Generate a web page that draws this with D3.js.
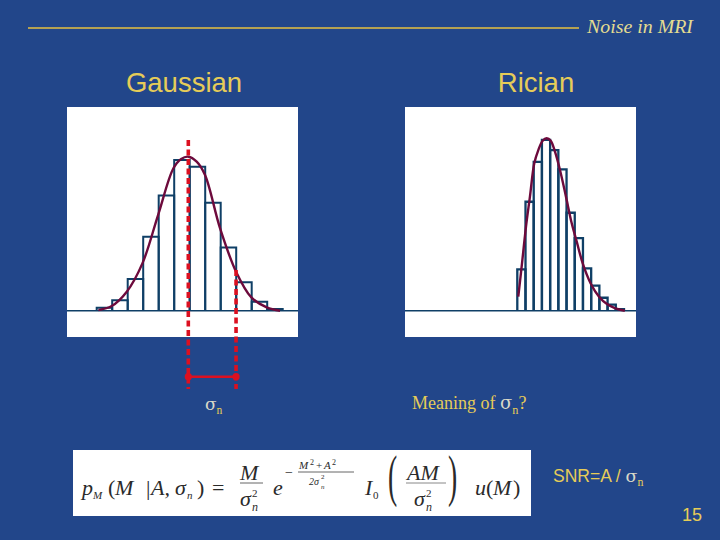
<!DOCTYPE html>
<html>
<head>
<meta charset="utf-8">
<script src="https://cdn.jsdelivr.net/npm/d3@7"></script>
<style>
    html, body { margin: 0; padding: 0; background: #22468a; }
    svg { display: block; }
</style>
</head>
<body>
<svg id="data" width="720" height="540"></svg>
<script>
// histogram heights, one per bin, peak of the gaussian bins = 100
var gaussianBins = [2, 7, 21, 49, 76.5, 100, 95.6, 71.7, 42, 18.8, 6, 1.1];
var ricianBins = [27.4, 72.3, 98.7, 113.3, 106.6, 93.8, 65, 48.2, 28.1, 16.6, 8.6, 4, 1.1];

// fitted curves (position in bin units)
var gaussianCurveX = [0.11, 0.97, 1.94, 2.95, 3.96, 4.95, 5.45, 5.91, 6.45, 6.99, 7.96, 8.99, 9.98, 10.97, 11.83];
var gaussianCurveY = [0.4, 3.1, 12.6, 31.4, 63.5, 94.5, 100.7, 102.2, 98.9, 90, 54.6, 25.9, 8.8, 2.2, 0];
var ricianCurveX = [0.12, 0.53, 1.06, 1.54, 2.07, 2.56, 3.09, 3.58, 4.07, 4.59, 5.2, 5.93, 6.63, 7.24, 7.97, 8.94, 9.96, 10.93, 11.95, 13.1];
var ricianCurveY = [9.3, 29.2, 55.8, 75.7, 97.8, 106.6, 112.8, 114.4, 112.8, 105.5, 93.4, 75.7, 58, 45.8, 31.4, 18.1, 9.3, 4.4, 1.5, 0];

// sigma marker: centre and centre + sigma, in bin units
var sigmaMarks = [5.91, 8.99];

var gold = "#e6cc58", cream = "#e4dc90", sigmaColor = "#d8d8c8", barColor = "#0f3f66", curveColor = "#6d0a3c", red = "#dc1020";

var svg = d3.select("#data");

var y = d3.scaleLinear().domain([0, 100]).range([310.7, 160]);
var xGauss = d3.scaleLinear().domain([0, 12]).range([96.7, 282.7]);
var xRice = d3.scaleLinear().domain([0, 13]).range([517.3, 624]);

function drawPanel(left, right, bins, curveX, curveY, x, barStroke) {
    svg.append("rect").attr("x", left).attr("y", 107)
        .attr("width", right - left).attr("height", 230).attr("fill", "#fff");

    svg.append("line").attr("x1", left).attr("x2", right)
        .attr("y1", y(0)).attr("y2", y(0))
        .attr("stroke", barColor).attr("stroke-width", 1.4);

    var barWidth = x(1) - x(0);
    svg.append("g").selectAll("path").data(bins).enter().append("path")
        .attr("d", function (d, i) {
            return "M" + x(i) + "," + y(0) + "V" + y(d) + "H" + (x(i) + barWidth) + "V" + y(0);
        })
        .attr("fill", "none").attr("stroke", barColor).attr("stroke-width", barStroke);

    var line = d3.line()
        .x(function (d) { return x(d); })
        .y(function (d, i) { return y(curveY[i]); })
        .curve(d3.curveCatmullRom);
    svg.append("path").attr("d", line(curveX))
        .attr("fill", "none").attr("stroke", curveColor).attr("stroke-width", 2.4);
}

drawPanel(67, 298, gaussianBins, gaussianCurveX, gaussianCurveY, xGauss, 2);
drawPanel(405, 636, ricianBins, ricianCurveX, ricianCurveY, xRice, 2.3);

// header rule and title
svg.append("line").attr("x1", 28).attr("x2", 579).attr("y1", 28).attr("y2", 28)
    .attr("stroke", "#b5a152").attr("stroke-width", 2);
svg.append("text").attr("x", 587).attr("y", 33).text("Noise in MRI")
    .attr("font-family", "Liberation Serif").attr("font-style", "italic")
    .attr("font-size", 18).attr("textLength", 106).attr("lengthAdjust", "spacingAndGlyphs").attr("fill", cream);

svg.append("text").attr("x", 184).attr("y", 92).attr("text-anchor", "middle").text("Gaussian")
    .attr("font-family", "Liberation Sans").attr("font-size", 27.5).attr("fill", gold);
svg.append("text").attr("x", 536).attr("y", 92).attr("text-anchor", "middle").text("Rician")
    .attr("font-family", "Liberation Sans").attr("font-size", 27.5).attr("fill", gold);

// sigma marker
var dashTops = [140, 270];
svg.append("g").selectAll("line").data(sigmaMarks).enter().append("line")
    .attr("x1", function (d) { return xGauss(d); })
    .attr("x2", function (d) { return xGauss(d); })
    .attr("y1", function (d, i) { return dashTops[i]; })
    .attr("y2", 389)
    .attr("stroke", red).attr("stroke-width", 3.6).attr("stroke-dasharray", "6,3.5");
svg.append("line").attr("x1", xGauss(sigmaMarks[0])).attr("x2", xGauss(sigmaMarks[1]))
    .attr("y1", 376.7).attr("y2", 376.7).attr("stroke", red).attr("stroke-width", 2.4);
svg.append("g").selectAll("circle").data(sigmaMarks).enter().append("circle")
    .attr("cx", function (d) { return xGauss(d); }).attr("cy", 376.7).attr("r", 3.6).attr("fill", red);

// labels with sigma_n, the sigma comes out wider than the plain serif one
function sigmaLabel(px, py, size, family, before, after) {
    var t = svg.append("text").attr("x", px).attr("y", py).attr("fill", gold)
        .attr("font-family", family).attr("font-size", size);
    if (before) t.append("tspan").text(before);
    t.append("tspan").text("σ").attr("font-family", "DejaVu Serif").attr("fill", sigmaColor);
    t.append("tspan").text("n").attr("font-family", "Liberation Serif")
        .attr("font-size", size * 0.68).attr("dy", size * 0.25);
    if (after) t.append("tspan").text(after).attr("dy", -size * 0.25);
}
sigmaLabel(205, 410, 17, "Liberation Serif", "", "");
sigmaLabel(412, 409, 18, "Liberation Serif", "Meaning of ", "?");
sigmaLabel(553, 482, 17.5, "Liberation Sans", "SNR=A / ", "");

svg.append("text").attr("x", 682).attr("y", 521).text("15")
    .attr("font-family", "Liberation Sans").attr("font-size", 18).attr("fill", gold);

// formula box
svg.append("rect").attr("x", 73).attr("y", 450).attr("width", 458).attr("height", 66).attr("fill", "#fff");

var formula = svg.append("g").attr("font-family", "Liberation Serif").attr("fill", "#2a2a2a");
function mathText(px, py, size, str, italic) {
    return formula.append("text").attr("x", px).attr("y", py).attr("font-size", size)
        .attr("font-style", italic ? "italic" : "normal").text(str);
}
function bigParen(px, str) {
    return formula.append("text").attr("font-size", 46)
        .attr("transform", "translate(" + px + ",495) scale(0.6,1.25)").text(str);
}

mathText(82, 495, 22, "p", true);
mathText(93, 499, 11, "M", true);
mathText(108, 495, 22, "(", false);
mathText(115, 495, 22, "M", true);
mathText(146, 495, 22, "|", false);
mathText(151, 495, 22, "A,", true);
mathText(175, 495, 22, "σ", true);
mathText(187, 499, 11, "n", true);
mathText(197, 495, 22, ")", false);
mathText(212, 495, 22, "=", false);

mathText(240, 480, 22, "M", true);
formula.append("line").attr("x1", 240).attr("x2", 263).attr("y1", 483).attr("y2", 483).attr("stroke", "#666");
mathText(240, 506, 22, "σ", true);
mathText(252, 497, 11, "2", false);
mathText(252, 511, 12, "n", true);

mathText(273, 495, 22, "e", true);
mathText(285, 477, 14, "−", false);
mathText(299, 469, 11, "M", true);
mathText(310, 465, 8, "2", false);
mathText(316, 469, 11, "+", false);
mathText(324, 469, 11, "A", true);
mathText(332, 465, 8, "2", false);
formula.append("line").attr("x1", 298).attr("x2", 354).attr("y1", 472).attr("y2", 472).attr("stroke", "#666");
mathText(309, 485, 10, "2σ", true);
mathText(321, 479, 7, "2", false);
mathText(321, 489, 7, "n", true);

mathText(365, 495, 22, "I", true);
mathText(373, 499, 11, "0", false);
bigParen(388, "(");
mathText(407, 480, 22, "AM", true);
formula.append("line").attr("x1", 406).attr("x2", 446).attr("y1", 483).attr("y2", 483).attr("stroke", "#888");
mathText(414, 506, 22, "σ", true);
mathText(426, 497, 11, "2", false);
mathText(426, 511, 12, "n", true);
bigParen(448, ")");
mathText(475, 495, 22, "u", true);
mathText(486, 495, 22, "(", false);
mathText(493, 495, 22, "M", true);
mathText(513, 495, 22, ")", false);
</script>
</body>
</html>
